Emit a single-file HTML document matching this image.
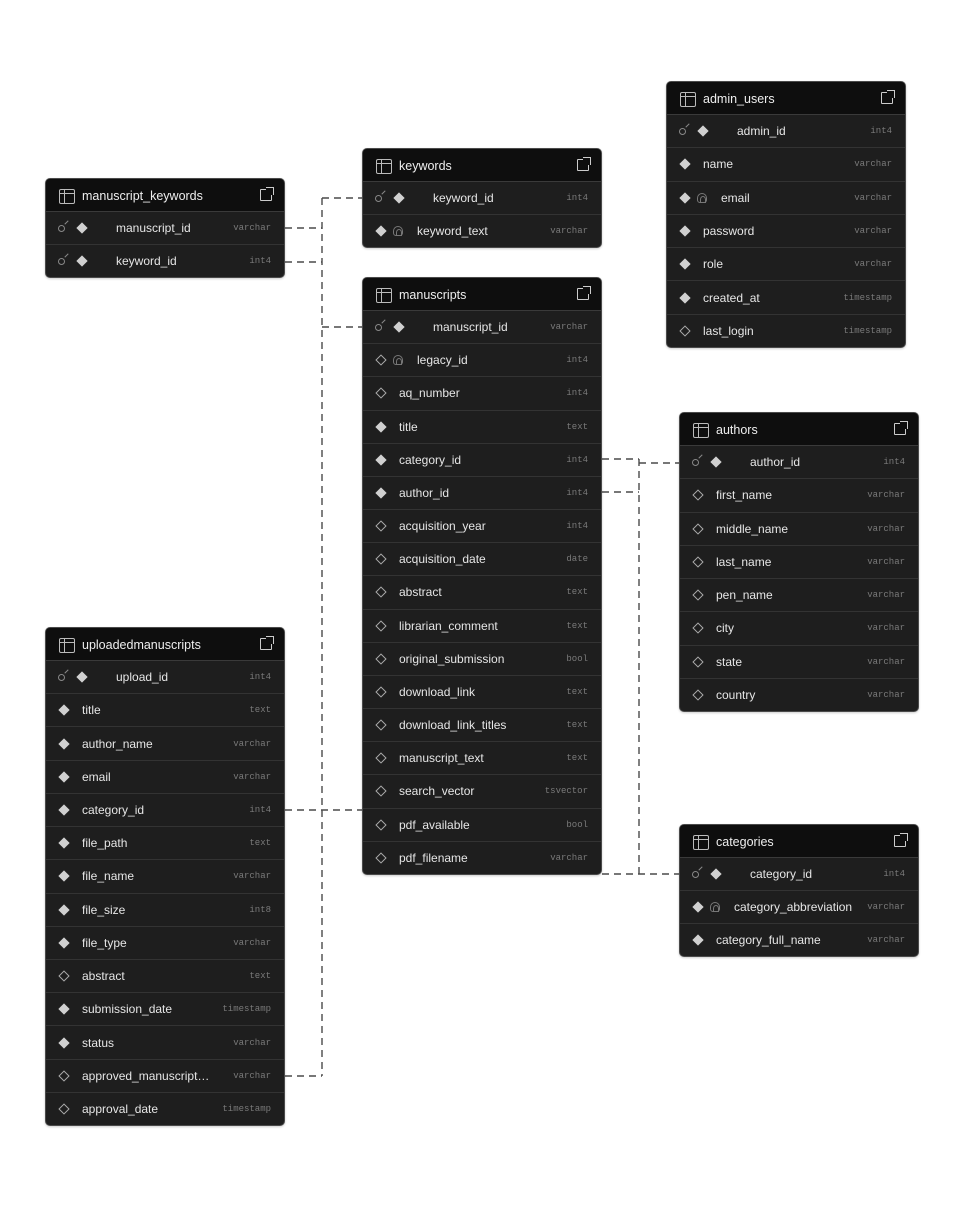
<!DOCTYPE html>
<html><head><meta charset="utf-8"><style>
*{box-sizing:border-box;margin:0;padding:0}
body{width:963px;height:1207px;background:#fff;position:relative;overflow:hidden;font-family:"Liberation Sans",sans-serif}
.t{position:absolute;width:240px;background:#1e1e1e;border:1px solid #4a4a4a;border-radius:5px;overflow:hidden;display:flex;flex-direction:column;box-shadow:0 1px 2px rgba(0,0,0,.2)}
.h{height:33px;flex:none;background:#0e0e0e;color:#eee;font-size:12.5px;display:flex;align-items:center;padding-left:36px;padding-top:1px;position:relative;border-bottom:1px solid #3a3a3a}
.h::before{content:"";position:absolute;left:13px;top:10px;width:14px;height:13px;border:1.2px solid #bbb;border-radius:2px;background:linear-gradient(#bbb,#bbb) 0 3px/100% 1.2px no-repeat,linear-gradient(#bbb,#bbb) 4px 0/1.2px 100% no-repeat}
.h .x{position:absolute;right:12px;top:10px;width:12px;height:12px;border:1.3px solid #ccc;border-radius:1px}
.h .x::after{content:"";position:absolute;right:-3px;top:-3px;width:7px;height:7px;border-top:1.3px solid #ccc;border-right:1.3px solid #ccc;background:#0e0e0e}
.r{flex:1;position:relative;border-top:1px solid #333;color:#e6e6e6;font-size:12px;display:flex;align-items:center}
.h+.r{border-top:none}
.r .n{position:absolute;left:36px}
.r.pk .n{left:70px}
.r.u .n{left:54px}
.r .ty{position:absolute;right:13px;font-family:"Liberation Mono",monospace;font-size:9px;color:#7a7a7a}
.d{position:absolute;left:14px;width:8px;height:8px;transform:rotate(45deg);background:#d0d0d0}
.d.o{background:none;border:1px solid #aaa}
.pk .d,.u .d2{left:32px}
.k{position:absolute;left:12px;top:50%;margin-top:-3px;width:7px;height:7px;border:1px solid #888;border-radius:50%}
.k::after{content:"";position:absolute;left:5px;top:-4px;width:5px;height:1px;background:#888;transform:rotate(-45deg)}
.fp{position:absolute;left:30px;width:10px;height:10px;border:1px solid #777;border-radius:50% 50% 30% 30%}
.fp::after{content:"";position:absolute;left:2px;top:2px;width:4px;height:5px;border:1px solid #777;border-radius:50% 50% 0 0}
svg{position:absolute;left:0;top:0}
</style></head><body>
<svg width="963" height="1207"><g stroke="#4a4a4a" stroke-width="1.4" fill="none" stroke-dasharray="7,5">
<path d="M285 228H322M285 262H322M322 198V1076M322 198H362M322 327H362M285 1076H322"/>
<path d="M285 810H362"/>
<path d="M602 459H639M602 492H639M639 459V874M639 463H679M602 874H679"/>
</g></svg>

<div class="t" style="left:45px;top:178px;height:100px"><div class="h">manuscript_keywords<span class="x"></span></div>
<div class="r pk"><span class="k"></span><span class="d"></span><span class="n">manuscript_id</span><span class="ty">varchar</span></div>
<div class="r pk"><span class="k"></span><span class="d"></span><span class="n">keyword_id</span><span class="ty">int4</span></div></div>

<div class="t" style="left:362px;top:148px;height:100px"><div class="h">keywords<span class="x"></span></div>
<div class="r pk"><span class="k"></span><span class="d"></span><span class="n">keyword_id</span><span class="ty">int4</span></div>
<div class="r u"><span class="d"></span><span class="fp"></span><span class="n">keyword_text</span><span class="ty">varchar</span></div></div>

<div class="t" style="left:362px;top:277px;height:598px"><div class="h">manuscripts<span class="x"></span></div>
<div class="r pk"><span class="k"></span><span class="d"></span><span class="n">manuscript_id</span><span class="ty">varchar</span></div>
<div class="r u"><span class="d o"></span><span class="fp"></span><span class="n">legacy_id</span><span class="ty">int4</span></div>
<div class="r"><span class="d o"></span><span class="n">aq_number</span><span class="ty">int4</span></div>
<div class="r"><span class="d"></span><span class="n">title</span><span class="ty">text</span></div>
<div class="r"><span class="d"></span><span class="n">category_id</span><span class="ty">int4</span></div>
<div class="r"><span class="d"></span><span class="n">author_id</span><span class="ty">int4</span></div>
<div class="r"><span class="d o"></span><span class="n">acquisition_year</span><span class="ty">int4</span></div>
<div class="r"><span class="d o"></span><span class="n">acquisition_date</span><span class="ty">date</span></div>
<div class="r"><span class="d o"></span><span class="n">abstract</span><span class="ty">text</span></div>
<div class="r"><span class="d o"></span><span class="n">librarian_comment</span><span class="ty">text</span></div>
<div class="r"><span class="d o"></span><span class="n">original_submission</span><span class="ty">bool</span></div>
<div class="r"><span class="d o"></span><span class="n">download_link</span><span class="ty">text</span></div>
<div class="r"><span class="d o"></span><span class="n">download_link_titles</span><span class="ty">text</span></div>
<div class="r"><span class="d o"></span><span class="n">manuscript_text</span><span class="ty">text</span></div>
<div class="r"><span class="d o"></span><span class="n">search_vector</span><span class="ty">tsvector</span></div>
<div class="r"><span class="d o"></span><span class="n">pdf_available</span><span class="ty">bool</span></div>
<div class="r"><span class="d o"></span><span class="n">pdf_filename</span><span class="ty">varchar</span></div></div>

<div class="t" style="left:666px;top:81px;height:267px"><div class="h">admin_users<span class="x"></span></div>
<div class="r pk"><span class="k"></span><span class="d"></span><span class="n">admin_id</span><span class="ty">int4</span></div>
<div class="r"><span class="d"></span><span class="n">name</span><span class="ty">varchar</span></div>
<div class="r u"><span class="d"></span><span class="fp"></span><span class="n">email</span><span class="ty">varchar</span></div>
<div class="r"><span class="d"></span><span class="n">password</span><span class="ty">varchar</span></div>
<div class="r"><span class="d"></span><span class="n">role</span><span class="ty">varchar</span></div>
<div class="r"><span class="d"></span><span class="n">created_at</span><span class="ty">timestamp</span></div>
<div class="r"><span class="d o"></span><span class="n">last_login</span><span class="ty">timestamp</span></div></div>

<div class="t" style="left:679px;top:412px;height:300px"><div class="h">authors<span class="x"></span></div>
<div class="r pk"><span class="k"></span><span class="d"></span><span class="n">author_id</span><span class="ty">int4</span></div>
<div class="r"><span class="d o"></span><span class="n">first_name</span><span class="ty">varchar</span></div>
<div class="r"><span class="d o"></span><span class="n">middle_name</span><span class="ty">varchar</span></div>
<div class="r"><span class="d o"></span><span class="n">last_name</span><span class="ty">varchar</span></div>
<div class="r"><span class="d o"></span><span class="n">pen_name</span><span class="ty">varchar</span></div>
<div class="r"><span class="d o"></span><span class="n">city</span><span class="ty">varchar</span></div>
<div class="r"><span class="d o"></span><span class="n">state</span><span class="ty">varchar</span></div>
<div class="r"><span class="d o"></span><span class="n">country</span><span class="ty">varchar</span></div></div>

<div class="t" style="left:679px;top:824px;height:133px"><div class="h">categories<span class="x"></span></div>
<div class="r pk"><span class="k"></span><span class="d"></span><span class="n">category_id</span><span class="ty">int4</span></div>
<div class="r u"><span class="d"></span><span class="fp"></span><span class="n">category_abbreviation</span><span class="ty">varchar</span></div>
<div class="r"><span class="d"></span><span class="n">category_full_name</span><span class="ty">varchar</span></div></div>

<div class="t" style="left:45px;top:627px;height:499px"><div class="h">uploadedmanuscripts<span class="x"></span></div>
<div class="r pk"><span class="k"></span><span class="d"></span><span class="n">upload_id</span><span class="ty">int4</span></div>
<div class="r"><span class="d"></span><span class="n">title</span><span class="ty">text</span></div>
<div class="r"><span class="d"></span><span class="n">author_name</span><span class="ty">varchar</span></div>
<div class="r"><span class="d"></span><span class="n">email</span><span class="ty">varchar</span></div>
<div class="r"><span class="d"></span><span class="n">category_id</span><span class="ty">int4</span></div>
<div class="r"><span class="d"></span><span class="n">file_path</span><span class="ty">text</span></div>
<div class="r"><span class="d"></span><span class="n">file_name</span><span class="ty">varchar</span></div>
<div class="r"><span class="d"></span><span class="n">file_size</span><span class="ty">int8</span></div>
<div class="r"><span class="d"></span><span class="n">file_type</span><span class="ty">varchar</span></div>
<div class="r"><span class="d o"></span><span class="n">abstract</span><span class="ty">text</span></div>
<div class="r"><span class="d"></span><span class="n">submission_date</span><span class="ty">timestamp</span></div>
<div class="r"><span class="d"></span><span class="n">status</span><span class="ty">varchar</span></div>
<div class="r"><span class="d o"></span><span class="n">approved_manuscript…</span><span class="ty">varchar</span></div>
<div class="r"><span class="d o"></span><span class="n">approval_date</span><span class="ty">timestamp</span></div></div>
</body></html>
